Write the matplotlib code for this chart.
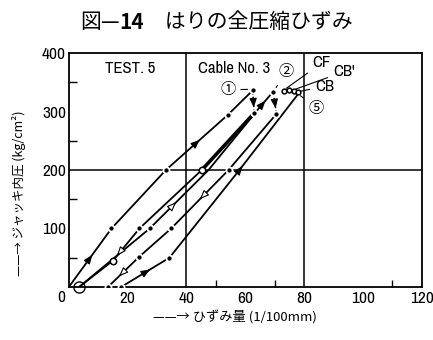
import matplotlib
matplotlib.use("Agg")
import matplotlib.pyplot as plt
from matplotlib import font_manager

# ---- data (strain in 1/100 mm, jack pressure in kg/cm2) ----
load1_x = [0, 14.5, 33, 54, 62.5]
load1_y = [0, 100, 200, 294, 336]
drop1_x = [62.5, 63]
drop1_y = [336, 297]
unload1_x = [63, 45.2, 24, 15, 3.5]
unload1_y = [297, 200, 100, 45, 0]
load2_x = [3.5, 27.5, 47.5, 64.7, 69.5]
load2_y = [0, 100, 200, 306, 334]
drop2_x = [69.5, 70.6]
drop2_y = [334, 296]
unload2_x = [70.6, 54.3, 34.8, 24, 13.3]
unload2_y = [296, 200, 100, 52, 0]
load3_x = [17.8, 34.2, 58, 78.3]
load3_y = [0, 50, 200, 332]
final_x = [73.2, 74.8, 76.4, 78.0]
final_y = [335, 336, 335, 334]

x_ticks = [0, 20, 40, 60, 80, 100, 120]
y_ticks = [0, 100, 200, 300, 400]

fig = plt.figure(figsize=(4.33, 3.40), dpi=100)
ax = fig.add_axes([0.159, 0.156, 0.815, 0.688])

# pick a narrow latin face if one is available
narrow_family, narrow_stretch = "Liberation Sans", "normal"
for f in font_manager.fontManager.ttflist:
    nm = f.name
    st = str(f.stretch)
    if "Narrow" in nm or "Condensed" in nm:
        narrow_family, narrow_stretch = nm, "normal"
        break
    if st in ("condensed", "semi-condensed", "75", "87") and nm in (
            "DejaVu Sans", "Noto Sans", "Open Sans", "Roboto", "Inter"):
        narrow_family, narrow_stretch = nm, "condensed"
lat = dict(family=[narrow_family, "DejaVu Sans"], stretch=narrow_stretch)
jp = ["Noto Sans CJK JP", "DejaVu Sans"]

LW = 1.3
K = "black"

def line(xs, ys, lw=LW, ls="-"):
    ax.plot(xs, ys, color=K, lw=lw, ls=ls, solid_capstyle="butt", zorder=3)

def dots(xs, ys, idx, hollow=False, ms=4.4):
    px = [xs[i] for i in idx]
    py = [ys[i] for i in idx]
    if hollow:
        ax.plot(px, py, ls="none", marker="o", ms=ms + 1, mfc="white", mec=K,
                mew=1.1, zorder=5)
    else:
        ax.plot(px, py, ls="none", marker="o", ms=ms, mfc=K, mec="white",
                mew=1.3, zorder=5)

def arrow(xs, ys, seg, frac, hollow=False):
    x0, y0 = xs[seg], ys[seg]
    x1, y1 = xs[seg + 1], ys[seg + 1]
    tx = x0 + (x1 - x0) * frac
    ty = y0 + (y1 - y0) * frac
    sx = tx - (x1 - x0) * 0.06
    sy = ty - (y1 - y0) * 0.06
    ax.annotate("", xy=(tx, ty), xytext=(sx, sy),
                arrowprops=dict(arrowstyle="-|>,head_length=0.55,head_width=0.22",
                                color=K, lw=0.8,
                                fc="white" if hollow else K),
                zorder=6)

# grid lines
for gx in (40, 80):
    ax.axvline(gx, color=K, lw=1.1, zorder=1)
ax.axhline(200, color=K, lw=1.1, zorder=1)

# curves
line(load1_x, load1_y)
line(drop1_x, drop1_y, lw=1.0, ls=(0, (3, 1.5)))
line(unload1_x, unload1_y)
line(unload1_x[:2], unload1_y[:2], lw=2.6)
line(load2_x, load2_y)
line(drop2_x, drop2_y, lw=1.0, ls=(0, (3, 1.5)))
line(unload2_x, unload2_y)
line(load3_x, load3_y)
line(final_x, final_y, lw=1.0)

# arrows along curves
arrow(load1_x, load1_y, 0, 0.55)
arrow(load1_x, load1_y, 2, 0.55)
arrow(drop1_x, drop1_y, 0, 0.75)
arrow(unload1_x, unload1_y, 2, 0.85, hollow=True)
arrow(load2_x, load2_y, 1, 0.45, hollow=True)
arrow(load2_x, load2_y, 3, 0.45)
arrow(drop2_x, drop2_y, 0, 0.75)
arrow(unload2_x, unload2_y, 1, 0.5, hollow=True)
arrow(unload2_x, unload2_y, 3, 0.65, hollow=True)
arrow(load3_x, load3_y, 0, 0.6)
arrow(load3_x, load3_y, 2, 0.08)

# points
dots(load1_x, load1_y, [1, 2, 3, 4])
dots(drop1_x, drop1_y, [1])
dots(unload1_x, unload1_y, [2])
dots(unload1_x, unload1_y, [1, 3], hollow=True, ms=3.6)
dots(load2_x, load2_y, [1, 4])
dots(unload2_x, unload2_y, [0, 1, 2, 3, 4])
dots(load3_x, load3_y, [0, 1])
dots(final_x, final_y, [0, 1, 2, 3], hollow=True, ms=2.4)
ax.plot([load2_x[0]], [load2_y[0]], ls="none", marker="o", ms=8, mfc="none",
        mec=K, mew=1.0, zorder=5, clip_on=False)

# point labels
ann = dict(arrowprops=dict(arrowstyle="-", color=K, lw=0.8), zorder=7)
ax.annotate("①", xy=(load1_x[4] - 0.8, load1_y[4] + 2), xytext=(54, 337),
            fontsize=11, family=jp, ha="center", va="center", **ann)
ax.annotate("②", xy=(load2_x[4] + 0.5, load2_y[4] + 3), xytext=(73.8, 368),
            fontsize=11, family=jp, ha="center", va="center", **ann)
ax.annotate("CF", xy=(final_x[0], final_y[0] + 2), xytext=(86, 383),
            fontsize=12, ha="center", va="center", **lat, **ann)
ax.annotate("CB'", xy=(final_x[2], final_y[2] + 2), xytext=(93.5, 368),
            fontsize=12, ha="center", va="center", **lat, **ann)
ax.annotate("CB", xy=(final_x[3], final_y[3]), xytext=(87, 343),
            fontsize=12, ha="center", va="center", **lat, **ann)
ax.annotate("⑤", xy=(final_x[3], final_y[3] - 4), xytext=(84, 306),
            fontsize=11, family=jp, ha="center", va="center", **ann)

ax.text(20.7, 374, "TEST. 5", fontsize=12, ha="center", va="center", **lat)
ax.text(56.3, 374, "Cable No. 3", fontsize=12, ha="center", va="center", **lat)

# axes
ax.set_xlim(0, 120)
ax.set_ylim(0, 400)
for s in ax.spines.values():
    s.set_linewidth(1.3)
ax.set_xticks(x_ticks)
ax.set_xticklabels([""] + [str(v) for v in x_ticks[1:]], fontsize=12.5, **lat)
ax.set_yticks(y_ticks)
ax.set_yticklabels([""] + [str(v) for v in y_ticks[1:]], fontsize=12.5, **lat)
ax.set_xticks([50, 60, 70, 100, 110], minor=True)
ax.set_yticks([50, 100, 150, 250, 300, 350], minor=True)
ax.tick_params(axis="x", which="major", length=0, pad=3)
ax.tick_params(axis="x", which="minor", direction="in", length=5, width=1)
ax.tick_params(axis="y", which="major", length=0, pad=2)
ax.tick_params(axis="y", which="minor", direction="in", length=6, width=1)
ax.text(-1.2, -6, "0", fontsize=12.5, ha="right", va="top", **lat)

ax.set_xlabel("——→ ひずみ量 (1/100mm)", family=jp, fontsize=9.5)
ax.xaxis.set_label_coords(0.47, -0.10)
ax.set_ylabel("——→ ジャッキ内圧 (kg/cm²)", family=jp, fontsize=9)
ax.yaxis.set_label_coords(-0.12, 0.40)

# title with a bold figure number, laid out piece by piece
pieces = [("図—", "normal"), ("14", "bold"), ("　はりの全圧縮ひずみ", "normal")]
renderer = fig.canvas.get_renderer()
texts = []
for s, w in pieces:
    t = fig.text(0, 0.935, s, family=jp, fontsize=15, fontweight=w,
                 ha="left", va="center")
    texts.append(t)
widths = [t.get_window_extent(renderer).width for t in texts]
fig_w = fig.get_figwidth() * fig.dpi
x = (fig_w - sum(widths)) / 2 / fig_w
for t, w in zip(texts, widths):
    t.set_x(x)
    x += w / fig_w

fig.savefig("out.png", dpi=100)
